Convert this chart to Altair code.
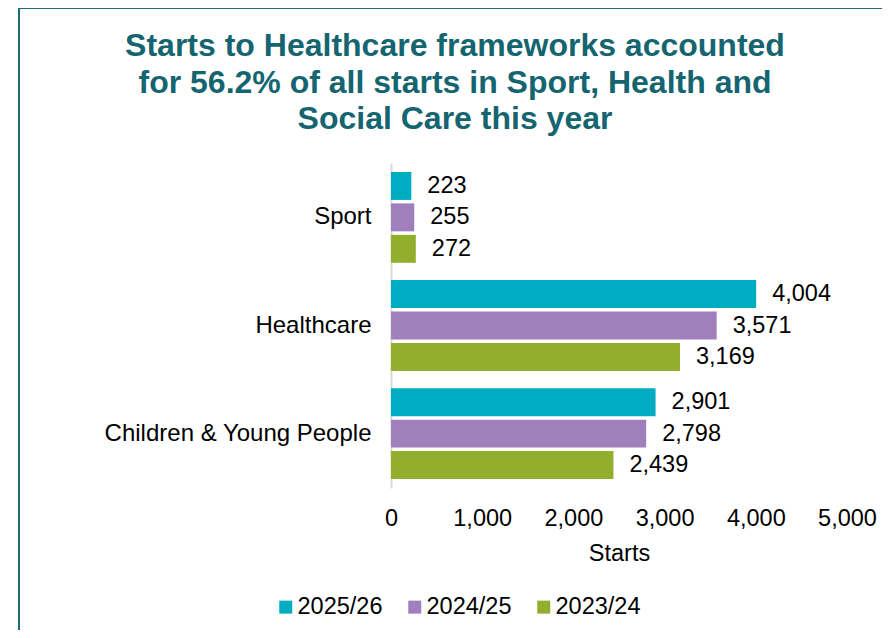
import altair as alt
import pandas as pd

categories = ["Sport", "Healthcare", "Children & Young People"]
years = ["2025/26", "2024/25", "2023/24"]
starts_2025_26 = [223, 4004, 2901]
starts_2024_25 = [255, 3571, 2798]
starts_2023_24 = [272, 3169, 2439]
colors = ["#00ACC1", "#A07FBD", "#92AE2D"]
x_ticks = [0, 1000, 2000, 3000, 4000, 5000]

FONT = "Liberation Sans"
FS = 23.5
TEAL = "#156570"

rows = []
for yr, vals in zip(years, [starts_2025_26, starts_2024_25, starts_2023_24]):
    for c, v in zip(categories, vals):
        rows.append({"category": c, "year": yr, "starts": v})
df = pd.DataFrame(rows)

base = alt.Chart(df).encode(
    y=alt.Y(
        "category:N",
        sort=categories,
        scale=alt.Scale(paddingInner=0.16, paddingOuter=0.083),
        axis=alt.Axis(
            title=None,
            ticks=False,
            domain=True,
            domainColor="#D9D9D9",
            domainWidth=2,
            labelFontSize=24,
            labelColor="#000000",
            labelPadding=20,
            labelLimit=500,
            grid=False,
        ),
    ),
    yOffset=alt.YOffset(
        "year:N", sort=years, scale=alt.Scale(paddingInner=0.111, paddingOuter=0)
    ),
    x=alt.X(
        "starts:Q",
        scale=alt.Scale(domain=[0, 5000], nice=False),
        axis=alt.Axis(
            title="Starts",
            values=x_ticks,
            labelExpr="format(datum.value, ',')",
            labelFlush=False,
            labelOverlap=False,
            grid=False,
            ticks=False,
            domain=False,
            labelFontSize=FS,
            labelColor="#000000",
            labelPadding=18,
            titleFontSize=FS,
            titleFontWeight="normal",
            titleColor="#000000",
            titlePadding=12,
        ),
    ),
)

bars = base.mark_bar().encode(
    color=alt.Color(
        "year:N",
        sort=years,
        scale=alt.Scale(domain=years, range=colors),
        legend=alt.Legend(
            title=None,
            orient="none",
            direction="horizontal",
            legendX=-117,
            legendY=432,
            symbolType="square",
            symbolSize=169,
            symbolStrokeWidth=0,
            labelFontSize=FS,
            labelColor="#000000",
            labelOffset=0,
            columnPadding=20,
        ),
    )
)

labels = base.mark_text(
    align="left", baseline="middle", dx=16, fontSize=FS, color="#000000"
).encode(text=alt.Text("starts:Q", format=","))

border = alt.Chart(alt.Data(values=[{"a": 1}])).mark_rect(
    fill="transparent", stroke="#1F6B78", strokeWidth=2
).encode(
    x=alt.value(-372),
    x2=alt.value(520),
    y=alt.value(-155),
    y2=alt.value(500),
)

chart = (
    alt.layer(border, bars, labels)
    .properties(
        width=456,
        height=325,
        autosize=alt.AutoSizeParams(type="none"),
        padding={"left": 383, "top": 155, "right": 35, "bottom": 142},
        title=alt.TitleParams(
            text=[
                "Starts to Healthcare frameworks accounted",
                "for 56.2% of all starts in Sport, Health and",
                "Social Care this year",
            ],
            fontSize=32,
            fontWeight="bold",
            color=TEAL,
            anchor="middle",
            frame="group",
            dx=-164,
            offset=-129,
            lineHeight=36.5,
        ),
    )
    .configure(font=FONT)
    .configure_view(stroke=None)
)

chart.save("out.html", embed_options={"renderer": "svg", "actions": False})
